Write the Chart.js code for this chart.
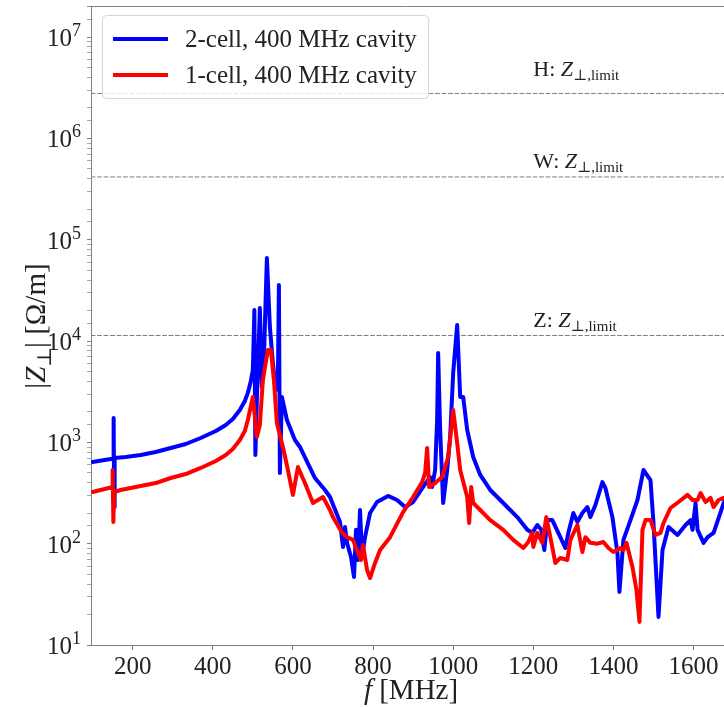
<!DOCTYPE html>
<html>
<head>
<meta charset="utf-8">
<script src="https://cdn.jsdelivr.net/npm/chart.js@4/dist/chart.umd.min.js"></script>
<style>
  html,body{margin:0;padding:0;background:#fff;overflow:hidden;}
  #wrap{width:724px;height:707px;}
</style>
</head>
<body>
<div id="wrap"><canvas id="imp" width="724" height="707"></canvas></div>
<script>
/* ---------- data ---------- */
const xTicks = [200,400,600,800,1000,1200,1400,1600];
const yDecades = [1,2,3,4,5,6,7];

// 2-cell, 400 MHz cavity
const twoCellF = [100,145,151.3,152.5,153.8,155,182.5,220,257.5,295,332.5,370,407.5,432.5,450,467.5,480,487.5,495,500,
  503.8,506.3,510,517.5,522.5,527.5,
  535,542.5,550,557.5,562.5,565,567.5,572.5,585,605,617.5,655,680,692.5,717.5,725,730,735,745,752.5,
  757.5,762.5,767.5,772.5,780,792.5,810,837.5,860,880,900,925,942.5,947.5,955,960,962.5,967.5,975,985,
  992.5,1000,1010,1017.5,1025,1035,1050,1067.5,1092.5,1125,1160,1185,1197.5,1210,1220,1227.5,1235,1247.5,1262.5,1280,
  1287.5,1300,1310,1322.5,1335,1342.5,1355,1372.5,1380,1397.5,1410,1415,1425,1442.5,1460,1475,1492.5,1500,1512.5,1522.5,
  1537.5,1560,1580,1592.5,1597.5,1605,1610,1625,1635,1650,1662.5,1675,1690];
const twoCellZ = [640,686,686,1742,230,702,718,751,804,881,964,1105,1297,1486,1703,2089,2564,3078,4040,5190,
  20280,751,2622,21230,3523,6505,
  66100,13780,6080,3290,4130,35800,499,2806,1664,1056,901,445,339,289,164,92.8,146,102,73.9,46.9,
  137,69,215,74,116,201,258,296,270,230,258,363,455,363,534,1664,7630,1326,252,534,
  1130,4840,14420,2806,2806,1326,718,477,339,252,183,137,128,153,137,86.7,171,171,128,90.7,
  128,201,164,201,230,183,241,406,355,183,81,33.4,109,171,270,534,425,160,18.9,86.7,
  146,122,153,171,137,252,137,102,116,128,179,252,339];

// 1-cell, 400 MHz cavity
const oneCellF = [100,140,148.8,150,151.8,153.8,170,220,257.5,295,332.5,370,407.5,432.5,450,467.5,480,487.5,
  500,510,517.5,525,537.5,545,
  552.5,560,575,587.5,600,612.5,630,650,662.5,675,692.5,700,722.5,735,750,762.5,770,775,785,792.5,
  805,817.5,842.5,875,900,922.5,930,935,940,955,972.5,987.5,1000,1010,1017.5,1035,1040,1045,1050,1067.5,
  1092.5,1125,1150,1175,1187.5,1197.5,1200,1210,1222.5,1232.5,1242.5,1255,1267.5,1285,1292.5,1310,1322.5,1330,1342.5,1360,
  1375,1387.5,1400,1417.5,1425,1432.5,1447.5,1457.5,1465,1472.5,1480,1492.5,1505,1517.5,1525,1542.5,1562.5,1585,1597.5,1610,
  1617.5,1630,1642.5,1650,1662.5,1675,1690];
const oneCellZ = [324,355,363,534,164,324,339,371,397,445,487,559,655,751,861,1056,1297,1664,
  2806,1130,1486,4130,8170,8170,
  4130,1555,901,534,303,571,397,252,270,289,215,183,128,116,109,81,69,97,55,45.8,
  64.5,86.7,116,205,289,406,499,881,363,397,455,718,2089,986,534,289,160,363,252,215,
  171,137,109,90.7,104,128,92.8,128,102,183,116,64.5,72.3,69,109,153,82.8,116,102,100,
  104,90.7,82.8,90.7,86.7,102,58.9,34.9,16.9,137,171,171,122,128,160,225,258,303,270,270,
  316,258,283,230,270,283,283];

// transverse impedance limits
const limitNames  = ['H','W','Z'];
const limitValues = [2.78e6, 4.17e5, 1.135e4];

const seriesLabels = ['2-cell, 400 MHz cavity','1-cell, 400 MHz cavity'];

/* ---------- style ---------- */
const serif = "'Liberation Serif', 'DejaVu Serif', serif";
const grey  = '#808080';
const ink   = '#222222';
const blue  = '#0000ff';
const red   = '#ff0000';
const xMin = 96, xMax = 1676;

const pts = (f, z) => f.map((v, i) => ({x: v, y: z[i]}));
const isDecade = v => Math.abs(Math.log10(v) - Math.round(Math.log10(v))) < 1e-9;

/* draw a run of mixed-style text pieces: [text, style, size, dy] */
function runWidth(ctx, parts){
  let w = 0;
  parts.forEach(p => { ctx.font = `${p[1]} ${p[2]}px ${serif}`; w += ctx.measureText(p[0]).width; });
  return w;
}
function drawRun(ctx, x, y, parts){
  parts.forEach(p => {
    ctx.font = `${p[1]} ${p[2]}px ${serif}`;
    ctx.fillText(p[0], x, y + p[3]);
    x += ctx.measureText(p[0]).width;
  });
}

const overlay = {
  id: 'overlay',
  afterDraw(chart){
    const {ctx, chartArea: a, scales: {x, y}} = chart;
    ctx.save();
    ctx.fillStyle = ink;
    ctx.textBaseline = 'alphabetic';

    // top spine
    ctx.strokeStyle = grey; ctx.lineWidth = 1;
    ctx.beginPath(); ctx.moveTo(a.left, a.top + 0.5); ctx.lineTo(a.right, a.top + 0.5); ctx.stroke();

    // y tick labels 10^n
    yDecades.forEach(n => {
      const py = y.getPixelForValue(Math.pow(10, n));
      const parts = [['10', 'normal', 25, 0], [String(n), 'normal', 18, -10]];
      drawRun(ctx, 81 - runWidth(ctx, parts), py + 9, parts);
    });

    // limit labels
    const lift = [17, 9, 9];
    limitNames.forEach((n, i) => {
      const px = x.getPixelForValue(1200);
      const py = y.getPixelForValue(limitValues[i]) - lift[i];
      drawRun(ctx, px, py, [[n + ': ', 'normal', 22, 0], ['Z', 'italic', 22, 0], ['⊥,limit', 'normal', 15, 4]]);
    });

    // x title
    const xt = [['f', 'italic', 29, 0], [' [MHz]', 'normal', 29, 0]];
    drawRun(ctx, 411 - runWidth(ctx, xt) / 2, 699, xt);

    // y title
    const yt = [['|', 'normal', 29, 0], ['Z', 'italic', 29, 0], ['⊥', 'normal', 20, 6], ['| [Ω/m]', 'normal', 29, 0]];
    ctx.save();
    ctx.translate(45, 326);
    ctx.rotate(-Math.PI / 2);
    drawRun(ctx, -runWidth(ctx, yt) / 2, 0, yt);
    ctx.restore();

    // legend
    const bx = 102, by = 15, bw = 326, bh = 83;
    ctx.beginPath();
    ctx.roundRect(bx + 0.5, by + 0.5, bw, bh, 4);
    ctx.fillStyle = 'rgba(255,255,255,0.8)';
    ctx.fill();
    ctx.strokeStyle = '#d6d6d6';
    ctx.stroke();
    [blue, red].forEach((c, i) => {
      const ly = 39 + i * 36;
      ctx.strokeStyle = c; ctx.lineWidth = 4;
      ctx.beginPath(); ctx.moveTo(113, ly); ctx.lineTo(168, ly); ctx.stroke();
      ctx.fillStyle = ink;
      ctx.font = `25px ${serif}`;
      ctx.textBaseline = 'middle';
      ctx.fillText(seriesLabels[i], 185, ly + 1);
    });
    ctx.restore();
  }
};

const limitSets = limitValues.map((v, i) => ({
  label: limitNames[i],
  data: [{x: xMin, y: v}, {x: xMax, y: v}],
  borderColor: grey, borderWidth: 1, borderDash: [4, 2.5],
  pointRadius: 0, order: 3
}));

new Chart(document.getElementById('imp'), {
  type: 'line',
  data: {
    datasets: [
      {label: seriesLabels[1], data: pts(oneCellF, oneCellZ), borderColor: red,  borderWidth: 4, order: 1},
      {label: seriesLabels[0], data: pts(twoCellF, twoCellZ), borderColor: blue, borderWidth: 4, order: 2},
      ...limitSets
    ]
  },
  options: {
    responsive: false, animation: false,
    layout: {padding: {top: 6, left: 0, right: 0, bottom: 0}},
    plugins: {legend: {display: false}, tooltip: {enabled: false}},
    elements: {
      point: {radius: 0},
      line: {tension: 0, borderJoinStyle: 'round', borderCapStyle: 'round'}
    },
    scales: {
      x: {
        type: 'linear', min: xMin, max: xMax,
        afterFit: s => { s.height = 62; s.paddingLeft = 0; s.paddingRight = 0; },
        afterBuildTicks: s => { s.ticks = xTicks.map(v => ({value: v})); },
        grid: {drawOnChartArea: false, tickLength: 5, color: grey},
        border: {color: grey},
        ticks: {font: {family: serif, size: 25}, color: ink, padding: 2, maxRotation: 0, autoSkip: false,
                callback: v => String(v)}
      },
      y: {
        type: 'logarithmic', min: 10, max: 2.03e7,
        afterFit: s => { s.width = 91; s.paddingTop = 0; s.paddingBottom = 0; },
        grid: {drawOnChartArea: false, tickLength: 4, color: grey,
               tickWidth: c => isDecade(c.tick.value) ? 1 : 0.7},
        border: {color: grey},
        ticks: {font: {family: serif, size: 25}, padding: 0, autoSkip: false, callback: () => ''}
      }
    }
  },
  plugins: [overlay]
});
</script>
</body>
</html>
